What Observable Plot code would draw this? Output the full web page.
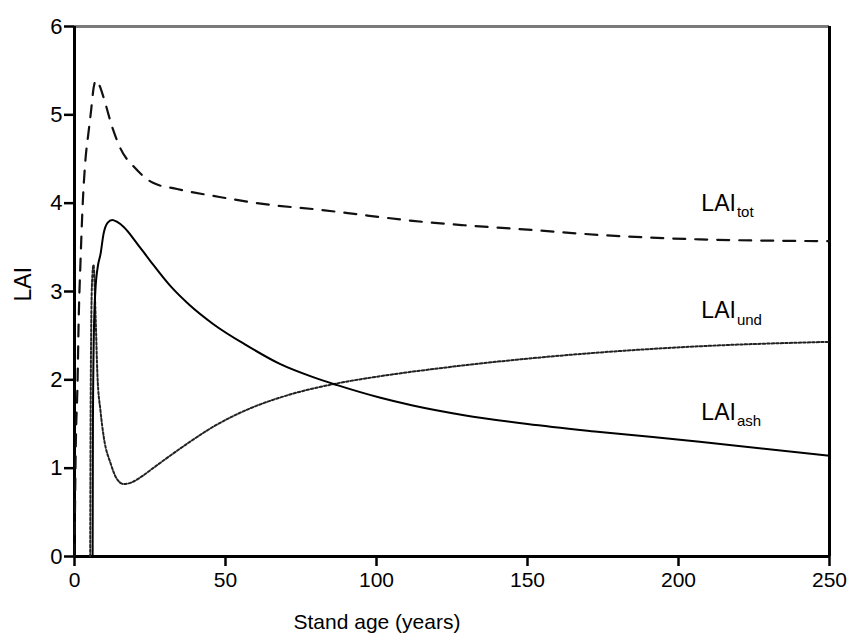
<!DOCTYPE html>
<html><head><meta charset="utf-8">
<script src="https://cdn.jsdelivr.net/npm/d3@7"></script>
<script src="https://cdn.jsdelivr.net/npm/@observablehq/plot@0.6"></script>
<style>
body{margin:0;background:#fff;}
#chart svg{font-family:"Liberation Sans",Arial,sans-serif;}
</style>
</head><body><div id="chart"></div>
<script>
// LAI_tot (dashed)
const totAge = [0, 0.4, 1, 1.4, 2, 2.6, 3.6, 4.6, 5.5, 6.3, 7.1, 8.3, 9.6, 12.5, 15.2, 20, 26, 34, 48, 65, 80, 97, 112, 129, 150, 174, 207, 250];
const totLAI = [0, 1.2, 1.96, 2.7, 3.35, 3.9, 4.48, 4.79, 5.05, 5.3, 5.39, 5.33, 5.2, 4.86, 4.62, 4.4, 4.23, 4.16, 4.07, 3.98, 3.93, 3.86, 3.80, 3.75, 3.70, 3.64, 3.59, 3.57];
// LAI_und (dotted)
const undAge = [5.2, 5.4, 5.8, 6.3, 7.0, 7.6, 8.6, 9.7, 12, 14, 16.3, 19, 22, 26, 30, 37, 46, 57, 71, 87, 101, 123, 150, 174, 207, 250];
const undLAI = [0, 2.0, 3.1, 3.3, 2.7, 2.05, 1.65, 1.35, 1.05, 0.88, 0.82, 0.84, 0.9, 1.0, 1.1, 1.27, 1.47, 1.66, 1.83, 1.96, 2.04, 2.14, 2.24, 2.31, 2.38, 2.43];
// LAI_ash (solid)
const ashAge = [6.0, 6.1, 6.4, 6.9, 7.8, 8.6, 9.6, 11, 12.5, 14, 16.3, 20.8, 25, 31.8, 38, 46, 57, 68, 79, 87, 101, 112, 129, 150, 174, 207, 250];
const ashLAI = [0, 1.5, 2.5, 3.0, 3.3, 3.42, 3.65, 3.78, 3.81, 3.79, 3.73, 3.54, 3.35, 3.06, 2.85, 2.63, 2.39, 2.18, 2.03, 1.94, 1.80, 1.71, 1.60, 1.50, 1.41, 1.30, 1.14];

// series labels (anchor in data units)
const labelMain = ["LAI", "LAI", "LAI"];
const labelSub = ["tot", "und", "ash"];
const labelAge = [219, 219, 219];
const labelLAI = [4.0, 2.78, 1.63];

const xTicks = [0, 50, 100, 150, 200, 250];
const yTicks = [0, 1, 2, 3, 4, 5, 6];
const xTitle = "Stand age (years)";
const yTitle = "LAI";

const tot = totAge.map((a, i) => ({age: a, lai: totLAI[i]}));
const und = undAge.map((a, i) => ({age: a, lai: undLAI[i]}));
const ash = ashAge.map((a, i) => ({age: a, lai: ashLAI[i]}));
const labels = labelMain.map((m, i) => ({main: m, sub: labelSub[i], age: labelAge[i], lai: labelLAI[i]}));

const chart = Plot.plot({
  width: 851,
  height: 637,
  marginLeft: 74,
  marginRight: 22,
  marginTop: 26,
  marginBottom: 81,
  style: {fontSize: "21px", color: "#000", background: "#fff", overflow: "visible"},
  x: {domain: [0, 250]},
  y: {domain: [0, 6]},
  marks: [
    Plot.axisX({ticks: xTicks, tickFormat: d3.format("d"), tickSize: 10, tickPadding: 6, strokeWidth: 2.5, label: null, fontSize: 21}),
    Plot.axisY({ticks: yTicks, tickFormat: d3.format("d"), tickSize: 10, tickPadding: 2, strokeWidth: 2.5, label: null, fontSize: 22}),
    Plot.ruleY([6], {stroke: "#7a7a7a", strokeWidth: 3}),
    Plot.ruleX([250], {stroke: "#000", strokeWidth: 3}),
    Plot.ruleY([0], {stroke: "#000", strokeWidth: 3}),
    Plot.ruleX([0], {stroke: "#000", strokeWidth: 3, y1: 6, y2: 0}),
    Plot.line(tot, {x: "age", y: "lai", stroke: "#111", strokeWidth: 2.2, strokeDasharray: "12,10", curve: "monotone-x"}),
    Plot.line(und, {x: "age", y: "lai", stroke: "#222", strokeWidth: 2, strokeDasharray: "2.5,2", curve: "monotone-x"}),
    Plot.line(ash, {x: "age", y: "lai", stroke: "#000", strokeWidth: 2, curve: "monotone-x"}),
    Plot.text(labels, {x: "age", y: "lai", text: "main", textAnchor: "end", lineAnchor: "middle", fontSize: 23, fill: "#000"}),
    Plot.text(labels, {x: "age", y: "lai", text: "sub", textAnchor: "start", lineAnchor: "middle", fontSize: 15, dx: 1, dy: 9, fill: "#000"}),
    Plot.text([xTitle], {frameAnchor: "bottom", text: d => d, dx: -75, dy: 66, lineAnchor: "middle", fontSize: 21, fill: "#000"}),
    Plot.text([yTitle], {frameAnchor: "left", text: d => d, dx: -51, dy: 10, rotate: -90, lineAnchor: "middle", fontSize: 23, fill: "#000"})
  ]
});
document.getElementById("chart").appendChild(chart);
</script>
</body></html>
